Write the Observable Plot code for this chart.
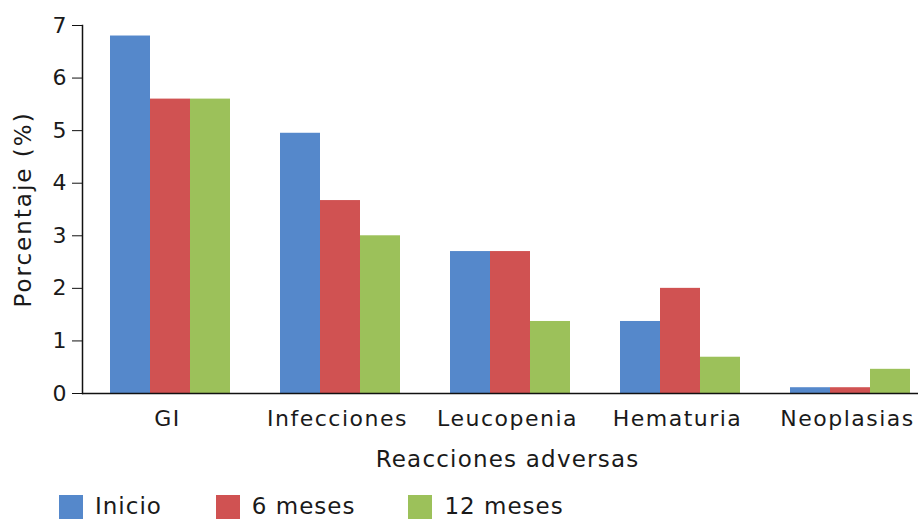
<!DOCTYPE html>
<html>
<head>
<meta charset="utf-8">
<script src="https://cdn.jsdelivr.net/npm/d3@7"></script>
<script src="https://cdn.jsdelivr.net/npm/@observablehq/plot@0.6"></script>
<style>
  body { margin: 0; background: #fff; font-family: "DejaVu Sans", Verdana, sans-serif; }
  #chart { width: 918px; height: 520px; overflow: hidden; position: relative; }
  .legend { display: flex; align-items: center; margin-left: 59px; margin-top: 13px; font-size: 23px; letter-spacing: 1px; color: #1a1a1a; line-height: 27px; }
  .legend .item { display: flex; align-items: center; }
  .legend .sw { width: 24px; height: 24px; margin-right: 12px; }
  g[aria-label="fx-axis tick label"] { font-size: 22px; letter-spacing: 1.5px; }
  g[aria-label="fx-axis label"] { font-size: 23px; letter-spacing: 1.2px; }
  g[aria-label="y-axis tick label"] { font-size: 22px; }
  g[aria-label="y-axis label"] { font-size: 23px; letter-spacing: 2px; }
</style>
</head>
<body>
<div id="chart"></div>
<script>
const categories = ["GI", "Infecciones", "Leucopenia", "Hematuria", "Neoplasias"];
const series = ["Inicio", "6 meses", "12 meses"];
const inicio = [6.8, 4.95, 2.7, 1.37, 0.11];
const meses6 = [5.6, 3.67, 2.7, 2.0, 0.11];
const meses12 = [5.6, 3.0, 1.37, 0.69, 0.46];
const colors = ["#5588CB", "#D05252", "#9CC15A"];
const yTicks = [0, 1, 2, 3, 4, 5, 6, 7];

const seriesValues = [inicio, meses6, meses12];
const data = [];
categories.forEach((c, i) => {
  series.forEach((s, j) => data.push({category: c, series: s, value: seriesValues[j][i]}));
});

const plot = Plot.plot({
  width: 918,
  height: 480,
  marginLeft: 82,
  marginRight: 0,
  marginTop: 25,
  marginBottom: 87,
  style: {fontFamily: "DejaVu Sans, Verdana, sans-serif", fontSize: "21px", color: "#1a1a1a", background: "#fff", overflow: "hidden"},
  fx: {domain: categories, range: [82, 932], padding: 0, label: null, axis: null},
  x: {domain: series, paddingInner: 0, paddingOuter: 0.625, align: 0.56, axis: null},
  y: {domain: [0, 7], axis: null},
  color: {domain: series, range: colors},
  marks: [
    Plot.barY(data, {fx: "category", x: "series", y: "value", fill: "series", inset: 0}),
    Plot.ruleY([0], {stroke: "#111", strokeWidth: 1.5}),
    Plot.frame({anchor: "left", facetAnchor: "left", stroke: "#111", strokeWidth: 1.5}),
    Plot.axisFx({anchor: "bottom", tickSize: 0, tickPadding: 17, label: "Reacciones adversas", labelAnchor: "center", labelOffset: 73, labelArrow: "none"}),
    Plot.axisY({ticks: yTicks, tickFormat: d => String(d), tickSize: 10, tickPadding: 6, label: "Porcentaje (%)", labelAnchor: "center", labelOffset: 68, labelArrow: "none", stroke: "#111"})
  ]
});

const chart = document.getElementById("chart");
chart.appendChild(plot);

const legend = document.createElement("div");
legend.className = "legend";
const gaps = [0, 54, 53];
series.forEach((s, i) => {
  const item = document.createElement("div");
  item.className = "item";
  item.style.marginLeft = gaps[i] + "px";
  const sw = document.createElement("span");
  sw.className = "sw";
  sw.style.background = colors[i];
  const t = document.createElement("span");
  t.textContent = s;
  item.appendChild(sw);
  item.appendChild(t);
  legend.appendChild(item);
});
chart.appendChild(legend);
</script>
</body>
</html>
